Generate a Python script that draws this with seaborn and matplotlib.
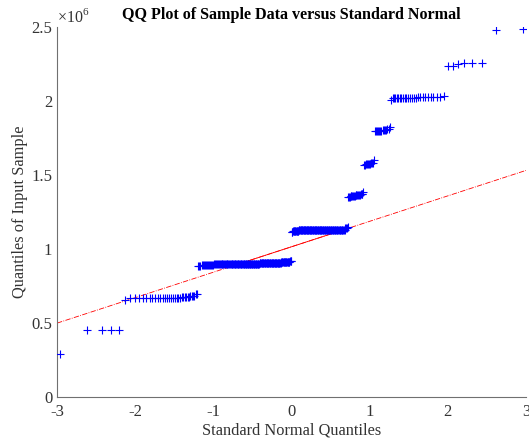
import numpy as np
import pandas as pd
import matplotlib
matplotlib.use('Agg')
import matplotlib.pyplot as plt
from matplotlib.ticker import FuncFormatter
import seaborn as sns
from statistics import NormalDist

sample_levels_k = [
    293,
    453,
    655, 668, 672, 678, 685, 694,
    885, 892, 896, 899, 904, 909, 916,
    1112, 1120, 1125, 1128, 1131, 1140, 1150,
    1350, 1356, 1362, 1370, 1385,
    1570, 1577, 1583, 1598,
    1795, 1800, 1806, 1812, 1822,
    2010, 2018, 2022, 2026, 2030, 2034,
    2238, 2247, 2257,
    2478, 2485,
]
sample_counts = [
    1,
    4,
    1, 10, 10, 6, 4, 2,
    3, 12, 20, 40, 35, 15, 3,
    2, 10, 20, 22, 30, 3, 1,
    3, 6, 6, 3, 1,
    2, 5, 3, 1,
    2, 5, 4, 2, 1,
    1, 5, 10, 7, 2, 1,
    2, 1, 3,
    1, 1,
]

x_ticks = [-3, -2, -1, 0, 1, 2, 3]
y_ticks = [0, 0.5e6, 1e6, 1.5e6, 2e6, 2.5e6]

# build the sorted sample and the matching normal quantiles
sample = np.sort(np.repeat(np.array(sample_levels_k) * 1000.0, sample_counts))
n = len(sample)
nd = NormalDist()
theo = np.array([nd.inv_cdf((i - 0.5) / n) for i in range(1, n + 1)])
df = pd.DataFrame({'theo': theo, 'sample': sample})

# reference line through the first and third quartiles
q1x, q3x = nd.inv_cdf(0.25), nd.inv_cdf(0.75)
q1y, q3y = np.percentile(sample, [25, 75])
slope = (q3y - q1y) / (q3x - q1x)
icpt = q1y - slope * q1x

sns.set_style('white')
plt.rcParams['font.family'] = ['Liberation Serif', 'DejaVu Serif']
plt.rcParams['mathtext.fontset'] = 'custom'
plt.rcParams['mathtext.rm'] = 'Liberation Serif'
plt.rcParams['axes.unicode_minus'] = False

fig = plt.figure(figsize=(5.29, 4.41), dpi=100)
ax = fig.add_axes([0.1078, 0.0998, 0.8865, 0.8390])

ext = pd.DataFrame({'x': [-3, 3], 'y': [icpt - 3 * slope, icpt + 3 * slope]})
mid = pd.DataFrame({'x': [q1x, q3x], 'y': [q1y, q3y]})
sns.lineplot(data=ext, x='x', y='y', ax=ax, color='red', linestyle='-.', linewidth=0.6)
sns.lineplot(data=mid, x='x', y='y', ax=ax, color='red', linestyle='-', linewidth=0.6)
sns.scatterplot(data=df, x='theo', y='sample', ax=ax, marker='+', color='blue',
                s=36, linewidth=0.8, zorder=3)

ax.set_xlim(-3, 3)
ax.set_ylim(0, 2.5e6)
ax.set_xticks(x_ticks)
ax.set_yticks(y_ticks)
ax.yaxis.set_major_formatter(FuncFormatter(lambda v, _: f'{v / 1e6:g}'))
ax.text(0.0, 1.004, r'$\times10^{6}$', transform=ax.transAxes, ha='left', va='bottom',
        fontsize=11.5, color='#333333')

for s in ['top', 'right']:
    ax.spines[s].set_visible(False)
for s in ['left', 'bottom']:
    ax.spines[s].set_color('#707070')
    ax.spines[s].set_linewidth(0.8)
ax.tick_params(direction='in', length=4, width=0.8, color='#707070',
               labelsize=12, labelcolor='#333333')
ax.tick_params(axis='x', pad=5)

ax.set_xlabel('Standard Normal Quantiles', fontsize=11.8, color='#333333', labelpad=1.5)
ax.set_ylabel('Quantiles of Input Sample', fontsize=11.8, color='#333333', labelpad=2)
ax.set_title('QQ Plot of Sample Data versus Standard Normal', fontsize=11.6,
             fontweight='bold', color='black', pad=6)

fig.savefig('out.png', dpi=100)
